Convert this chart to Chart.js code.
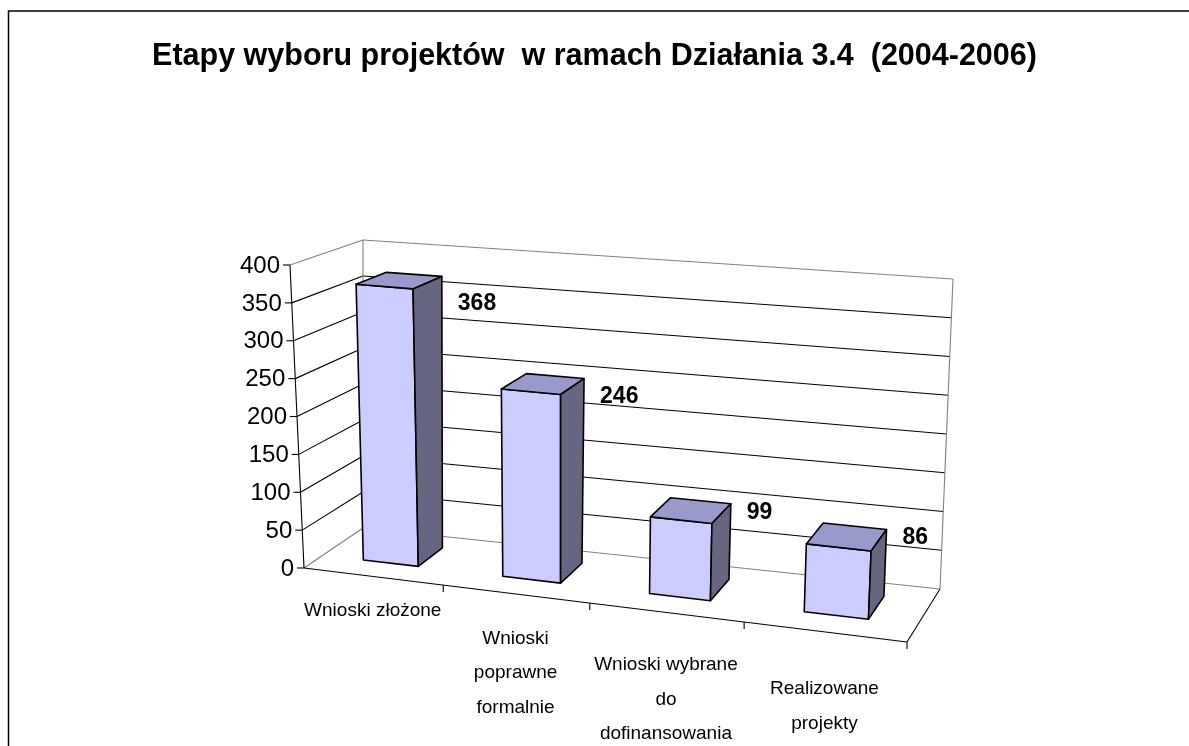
<!DOCTYPE html>
<html>
<head>
<meta charset="utf-8">
<script src="https://cdn.jsdelivr.net/npm/chart.js@4.4.1/dist/chart.umd.min.js"></script>
<style>
  html, body { margin: 0; padding: 0; background: #fff; }
  #wrap { width: 1189px; height: 746px; position: relative; }
</style>
</head>
<body>
<div id="wrap"><canvas id="chart"></canvas></div>
<script>
// data
const categories = [
    ['Wnioski złożone'],
    ['Wnioski', 'poprawne', 'formalnie'],
    ['Wnioski wybrane', 'do', 'dofinansowania'],
    ['Realizowane', 'projekty']
];
const values = [368, 246, 99, 86];
const yMin = 0;
const yMax = 400;
const yStep = 50;
const titleText = 'Etapy wyboru projektów  w ramach Działania 3.4  (2004-2006)';

// 3d frame: where the box corners land on the page
const box = {
    front: { bl: [304, 568], br: [907, 642], tl: [290, 265], tr: [922, 318] },
    back:  { bl: [363, 528], br: [940, 589], tl: [363, 240], tr: [953, 279] },
    persp: 1.11,
    barFront: 0.32,
    barBack: 0.76
};

const FONT = '"Liberation Sans", Arial, sans-serif';

function lerp(a, b, t) {
    return [a[0] + (b[0] - a[0]) * t, a[1] + (b[1] - a[1]) * t];
}

function persp(u) {
    return u / (u + box.persp * (1 - u));
}

// u along categories, v along values, w into depth (all 0..1)
function proj(u, v, w) {
    const p = persp(u);
    const face = f => lerp(lerp(f.bl, f.br, p), lerp(f.tl, f.tr, p), v);
    return lerp(face(box.front), face(box.back), w);
}

function line(ctx, a, b) {
    ctx.beginPath();
    ctx.moveTo(a[0], a[1]);
    ctx.lineTo(b[0], b[1]);
    ctx.stroke();
}

function poly(ctx, pts, fill) {
    ctx.beginPath();
    ctx.moveTo(pts[0][0], pts[0][1]);
    for (let i = 1; i < pts.length; i++) ctx.lineTo(pts[i][0], pts[i][1]);
    ctx.closePath();
    ctx.fillStyle = fill;
    ctx.fill();
    ctx.stroke();
}

const box3d = {
    id: 'box3d',
    beforeDraw(chart) {
        const ctx = chart.ctx;
        ctx.save();
        ctx.fillStyle = '#fff';
        ctx.fillRect(0, 0, chart.width, chart.height);
        ctx.strokeStyle = '#000';
        ctx.lineWidth = 1.5;
        ctx.beginPath();
        ctx.moveTo(8.5, chart.height);
        ctx.lineTo(8.5, 11);
        ctx.lineTo(chart.width, 11);
        ctx.stroke();
        ctx.restore();
    },
    afterDatasetsDraw(chart) {
        const ctx = chart.ctx;
        const area = chart.chartArea;
        const xs = chart.scales.x;
        const ys = chart.scales.y;
        const U = px => (px - area.left) / area.width;
        const V = py => (area.bottom - py) / area.height;

        ctx.save();
        ctx.lineWidth = 1.1;

        // gridlines on the left and back walls
        ys.ticks.forEach(t => {
            const v = V(ys.getPixelForValue(t.value));
            const edge = t.value === yMin || t.value === yMax;
            ctx.strokeStyle = edge ? '#808080' : '#000';
            line(ctx, proj(0, v, 0), proj(0, v, 1));
            line(ctx, proj(0, v, 1), proj(1, v, 1));
        });

        ctx.strokeStyle = '#808080';
        line(ctx, proj(0, 0, 1), proj(0, 1, 1));
        line(ctx, proj(1, 0, 1), proj(1, 1, 1));

        ctx.strokeStyle = '#000';
        line(ctx, proj(1, 0, 1), proj(1, 0, 0));
        line(ctx, proj(0, 0, 0), proj(1, 0, 0));
        line(ctx, proj(0, 0, 0), proj(0, 1, 0));

        // value axis ticks and labels
        ctx.fillStyle = '#000';
        ctx.font = '24px ' + FONT;
        ctx.textAlign = 'right';
        ctx.textBaseline = 'middle';
        ys.ticks.forEach(t => {
            const p = proj(0, V(ys.getPixelForValue(t.value)), 0);
            line(ctx, [p[0] - 7, p[1]], p);
            ctx.fillText(t.label, p[0] - 10, p[1] + 1);
        });

        // category ticks on the front floor edge
        const step = xs.getPixelForValue(1) - xs.getPixelForValue(0);
        categories.forEach((c, i) => {
            const p = proj(U(xs.getPixelForValue(i) + step / 2), 0, 0);
            line(ctx, p, [p[0], p[1] + 7]);
        });

        // bars
        ctx.lineWidth = 1.6;
        ctx.lineJoin = 'round';
        ctx.strokeStyle = '#000';
        const meta = chart.getDatasetMeta(0);
        const w0 = box.barFront, w1 = box.barBack;
        meta.data.forEach((bar, i) => {
            const b = bar.getProps(['x', 'y', 'base', 'width'], true);
            const u0 = U(b.x - b.width / 2), u1 = U(b.x + b.width / 2);
            const v = V(b.y), vb = V(b.base);
            poly(ctx, [proj(u0, vb, w0), proj(u1, vb, w0), proj(u1, v, w0), proj(u0, v, w0)], '#CCCCFF');
            poly(ctx, [proj(u0, v, w0), proj(u1, v, w0), proj(u1, v, w1), proj(u0, v, w1)], '#9999CC');
            poly(ctx, [proj(u1, vb, w0), proj(u1, vb, w1), proj(u1, v, w1), proj(u1, v, w0)], '#666680');

            // value label to the right of the bar
            const q = proj(u1, v, w1);
            ctx.font = 'bold 23px ' + FONT;
            ctx.textAlign = 'left';
            ctx.textBaseline = 'middle';
            ctx.fillStyle = '#000';
            ctx.fillText(String(values[i]), q[0] + 16, q[1] + 27 * v + 2);
        });

        // category labels below the floor
        ctx.font = '19px ' + FONT;
        ctx.textAlign = 'center';
        ctx.textBaseline = 'alphabetic';
        categories.forEach((lines, i) => {
            const u = U(xs.getPixelForValue(i));
            const p = proj(u, 0, 0);
            const pp = persp(u);
            const first = p[1] + 33.6 + 55.1 * pp - 25 * pp * pp;
            lines.forEach((txt, k) => {
                ctx.fillText(txt, p[0], first + k * 34.5);
            });
        });

        ctx.restore();
    }
};

new Chart(document.getElementById('chart'), {
    type: 'bar',
    data: {
        labels: categories,
        datasets: [{
            data: values,
            backgroundColor: 'rgba(0,0,0,0)',
            borderWidth: 0,
            barPercentage: 0.4,
            categoryPercentage: 1.0
        }]
    },
    options: {
        responsive: true,
        maintainAspectRatio: false,
        animation: false,
        events: [],
        plugins: {
            legend: { display: false },
            tooltip: { enabled: false },
            title: {
                display: true,
                text: titleText,
                color: '#000',
                font: { family: FONT, size: 30.5, weight: 'bold' },
                padding: { top: 38, bottom: 20 }
            }
        },
        scales: {
            x: { display: false, offset: true },
            y: { display: false, min: yMin, max: yMax, ticks: { stepSize: yStep } }
        }
    },
    plugins: [box3d]
});
</script>
</body>
</html>
